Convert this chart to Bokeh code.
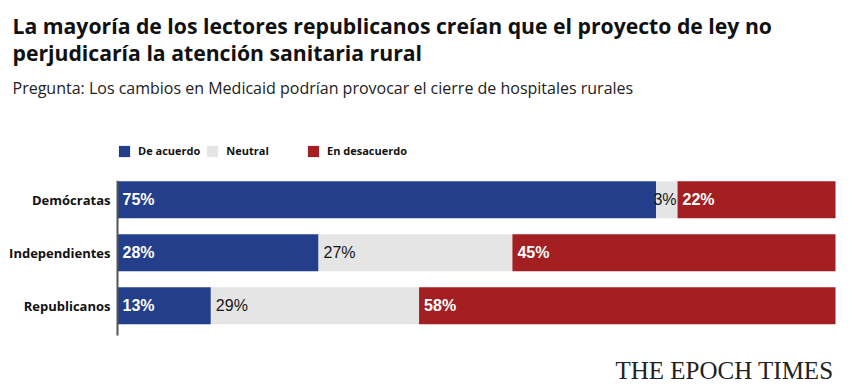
from bokeh.plotting import figure
from bokeh.models import ColumnDataSource, Legend, LegendItem, Range1d, Label
from bokeh.core.properties import value
from bokeh.embed import file_html
from bokeh.resources import INLINE

groups = ["Republicanos", "Independientes", "Demócratas"]
agree = [13, 28, 75]
neutral = [29, 27, 3]
disagree = [58, 45, 22]
series_names = ["De acuerdo", "Neutral", "En desacuerdo"]
colors = ["#233e8b", "#e5e5e5", "#a31f22"]

title_1 = "La mayoría de los lectores republicanos creían que el proyecto de ley no"
title_2 = "perjudicaría la atención sanitaria rural"
subtitle = "Pregunta: Los cambios en Medicaid podrían provocar el cierre de hospitales rurales"
source_note = "THE EPOCH TIMES"

# ---- layout constants (pixels of the 860x392 canvas) ----
W, H = 860, 392
LEFT, RIGHT = 117, 835          # where 0 % and 100 % fall
Y_LO, Y_AXIS_TOP = -0.56, 2.36  # value-axis extent in category units
AX_BOTTOM = 335                 # pixel row of Y_LO
PY = 53.0                       # pixels per category unit
PX = (RIGHT - LEFT) / 100.0     # pixels per percent


def px_x(px):
    return (px - LEFT) / PX


def px_y(py):
    return Y_LO + (AX_BOTTOM - py) / PY


ys = list(range(len(groups)))
a_end = agree
n_end = [a + n for a, n in zip(agree, neutral)]
d_end = [a + n + d for a, n, d in zip(agree, neutral, disagree)]

src = ColumnDataSource(dict(
    y=ys, a0=[0] * len(ys), a1=a_end, n1=n_end, d1=d_end,
))

p = figure(width=W, height=H, output_backend="svg", toolbar_location=None,
           x_range=Range1d(px_x(0), px_x(W)), y_range=Range1d(px_y(H), px_y(0)),
           min_border=0, x_axis_type=None, y_axis_type=None)

p.outline_line_color = None
p.grid.grid_line_color = None
p.background_fill_color = "white"
p.border_fill_color = "white"

h = 0.70
r_a = p.hbar(y="y", left="a0", right="a1", height=h, source=src,
             fill_color=colors[0], line_color=None)
r_n = p.hbar(y="y", left="a1", right="n1", height=h, source=src,
             fill_color=colors[1], line_color=None)
r_d = p.hbar(y="y", left="n1", right="d1", height=h, source=src,
             fill_color=colors[2], line_color=None)

# category axis line
p.segment(x0=[0], y0=[Y_LO], x1=[0], y1=[Y_AXIS_TOP], line_color="#555555",
          line_width=2)

# category labels
p.text(x=[px_x(LEFT - 7)] * len(ys), y=ys, text=groups, text_align="right",
       text_baseline="middle", text_font=value("Open Sans"),
       text_font_size="13px", text_font_style="bold", text_color="#111111")

# value labels
lx, ly, lt, lc, la, lw = [], [], [], [], [], []
for i, y in enumerate(ys):
    segs = [(0, agree[i], "white", "bold"),
            (a_end[i], neutral[i], "#151515", "normal"),
            (n_end[i], disagree[i], "white", "bold")]
    for start, v, col, wt in segs:
        if v < 5:
            lx.append(start + v / 2.0 - 0.25)
            la.append("center")
        else:
            lx.append(start + 0.7)
            la.append("left")
        ly.append(y)
        lt.append(f"{v}%")
        lc.append(col)
        lw.append(wt)
lsrc = ColumnDataSource(dict(x=lx, y=ly, t=lt, c=lc, a=la, w=lw))
p.text(x="x", y="y", text="t", source=lsrc, text_color="c", text_align="a",
       text_baseline="middle", text_font=value("Liberation Sans"),
       text_font_size="16px", text_font_style="w")

legend_style = dict(orientation="horizontal", glyph_width=14, glyph_height=14,
                    label_standoff=7, padding=0, margin=0,
                    label_text_font="Open Sans", label_text_font_size="11px",
                    label_text_font_style="bold", label_text_color="#111111",
                    border_line_color=None, background_fill_alpha=0)
legend_a = Legend(items=[LegendItem(label=series_names[0], renderers=[r_a]),
                         LegendItem(label=series_names[1], renderers=[r_n])],
                  location=(LEFT, H - 158), spacing=5, **legend_style)
legend_b = Legend(items=[LegendItem(label=series_names[2], renderers=[r_d])],
                  location=(306, H - 158), spacing=5, **legend_style)
p.add_layout(legend_a, "center")
p.add_layout(legend_b, "center")

# header and source texts
hdr = [
    (title_1, 12, 25, "21.2px", "bold", "#111111", "Open Sans", "left"),
    (title_2, 12, 52, "21.2px", "bold", "#111111", "Open Sans", "left"),
    (subtitle, 12, 87, "16px", "normal", "#222222", "Open Sans", "left"),
    (source_note, 833, 370, "25px", "normal", "#222222", "Liberation Serif", "right"),
]
for txt, px, py, fs, st, col, font, al in hdr:
    p.add_layout(Label(x=px_x(px), y=px_y(py), text=txt, text_font=font,
                       text_font_size=fs, text_font_style=st, text_color=col,
                       text_align=al, text_baseline="middle"))

open("out.html", "w").write(file_html(p, INLINE))
